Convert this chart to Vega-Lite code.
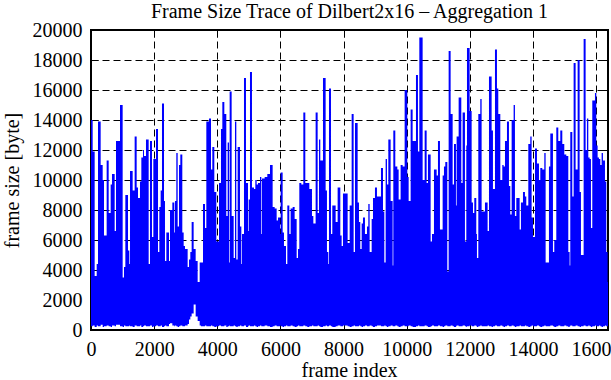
{
  "$schema": "https://vega.github.io/schema/vega-lite/v6.json",
  "width": 517,
  "height": 300,
  "autosize": {"type": "none"},
  "padding": {"left": 91, "top": 30, "right": 3, "bottom": 50},
  "background": "white",
  "config": {
    "view": {"stroke": "black", "strokeWidth": 2},
    "font": "Liberation Serif"
  },
  "data": {
    "values": [
      {"f":0,"hi":14000,"lo":250},{"f":53,"hi":11900,"lo":300},{"f":116,"hi":3600,"lo":200},{"f":180,"hi":4400,"lo":300},{"f":222,"hi":13900,"lo":250},{"f":306,"hi":11000,"lo":350},{"f":370,"hi":10000,"lo":200},{"f":412,"hi":6300,"lo":250},{"f":496,"hi":11300,"lo":300},{"f":560,"hi":7800,"lo":250},{"f":623,"hi":9700,"lo":200},{"f":665,"hi":10400,"lo":300},{"f":750,"hi":6600,"lo":250},{"f":792,"hi":12600,"lo":350},{"f":919,"hi":15000,"lo":250},{"f":1003,"hi":3500,"lo":200},{"f":1045,"hi":4200,"lo":300},{"f":1088,"hi":9000,"lo":250},{"f":1172,"hi":5300,"lo":250},{"f":1214,"hi":4400,"lo":300},{"f":1236,"hi":10600,"lo":250},{"f":1320,"hi":9300,"lo":200},{"f":1383,"hi":12900,"lo":300},{"f":1447,"hi":9500,"lo":250},{"f":1489,"hi":8800,"lo":250},{"f":1552,"hi":9900,"lo":300},{"f":1595,"hi":11500,"lo":200},{"f":1647,"hi":12000,"lo":250},{"f":1679,"hi":11600,"lo":300},{"f":1742,"hi":12700,"lo":250},{"f":1827,"hi":4400,"lo":250},{"f":1869,"hi":12600,"lo":300},{"f":1932,"hi":6200,"lo":200},{"f":1975,"hi":11400,"lo":250},{"f":2059,"hi":13400,"lo":300},{"f":2123,"hi":5200,"lo":250},{"f":2165,"hi":8200,"lo":250},{"f":2207,"hi":9300,"lo":300},{"f":2249,"hi":15100,"lo":200},{"f":2313,"hi":8600,"lo":250},{"f":2344,"hi":4600,"lo":300},{"f":2387,"hi":6500,"lo":250},{"f":2471,"hi":4600,"lo":400},{"f":2503,"hi":8000,"lo":450},{"f":2577,"hi":8500,"lo":300},{"f":2640,"hi":6500,"lo":250},{"f":2661,"hi":8600,"lo":300},{"f":2703,"hi":11800,"lo":250},{"f":2746,"hi":6900,"lo":200},{"f":2788,"hi":11000,"lo":250},{"f":2830,"hi":11700,"lo":300},{"f":2893,"hi":6500,"lo":250},{"f":2936,"hi":5600,"lo":250},{"f":2978,"hi":5400,"lo":300},{"f":3062,"hi":4200,"lo":400},{"f":3105,"hi":4700,"lo":700},{"f":3147,"hi":5200,"lo":900},{"f":3189,"hi":7200,"lo":1100},{"f":3252,"hi":5400,"lo":1700},{"f":3316,"hi":4600,"lo":900},{"f":3379,"hi":3200,"lo":600},{"f":3443,"hi":4500,"lo":300},{"f":3485,"hi":4500,"lo":250},{"f":3548,"hi":8400,"lo":250},{"f":3612,"hi":6800,"lo":300},{"f":3654,"hi":13900,"lo":250},{"f":3738,"hi":14100,"lo":250},{"f":3802,"hi":10700,"lo":300},{"f":3844,"hi":12200,"lo":250},{"f":3907,"hi":9200,"lo":200},{"f":3971,"hi":5900,"lo":250},{"f":4055,"hi":9800,"lo":300},{"f":4118,"hi":13400,"lo":250},{"f":4161,"hi":15200,"lo":250},{"f":4224,"hi":14400,"lo":300},{"f":4287,"hi":7600,"lo":200},{"f":4330,"hi":12500,"lo":250},{"f":4372,"hi":4500,"lo":300},{"f":4393,"hi":15900,"lo":250},{"f":4456,"hi":7600,"lo":250},{"f":4520,"hi":4800,"lo":300},{"f":4562,"hi":13900,"lo":250},{"f":4604,"hi":4700,"lo":200},{"f":4646,"hi":12200,"lo":250},{"f":4720,"hi":6900,"lo":300},{"f":4763,"hi":4400,"lo":250},{"f":4784,"hi":6400,"lo":250},{"f":4847,"hi":16800,"lo":300},{"f":4910,"hi":9800,"lo":200},{"f":4974,"hi":6600,"lo":250},{"f":4995,"hi":8700,"lo":300},{"f":5037,"hi":17200,"lo":250},{"f":5100,"hi":9500,"lo":250},{"f":5164,"hi":9400,"lo":300},{"f":5206,"hi":10000,"lo":250},{"f":5248,"hi":9700,"lo":200},{"f":5291,"hi":9800,"lo":250},{"f":5354,"hi":10200,"lo":300},{"f":5396,"hi":6400,"lo":250},{"f":5417,"hi":10100,"lo":250},{"f":5502,"hi":10200,"lo":300},{"f":5586,"hi":10400,"lo":250},{"f":5671,"hi":11000,"lo":200},{"f":5755,"hi":8200,"lo":250},{"f":5819,"hi":8100,"lo":300},{"f":5882,"hi":7300,"lo":250},{"f":5924,"hi":7500,"lo":250},{"f":5988,"hi":6400,"lo":300},{"f":6009,"hi":10500,"lo":250},{"f":6072,"hi":6500,"lo":200},{"f":6114,"hi":5600,"lo":250},{"f":6178,"hi":4400,"lo":300},{"f":6220,"hi":8300,"lo":250},{"f":6283,"hi":6400,"lo":250},{"f":6325,"hi":8100,"lo":300},{"f":6389,"hi":8200,"lo":250},{"f":6452,"hi":7400,"lo":200},{"f":6516,"hi":4800,"lo":250},{"f":6558,"hi":5400,"lo":300},{"f":6600,"hi":9800,"lo":250},{"f":6663,"hi":9700,"lo":250},{"f":6727,"hi":14500,"lo":300},{"f":6790,"hi":9800,"lo":250},{"f":6853,"hi":9800,"lo":200},{"f":6917,"hi":9400,"lo":250},{"f":7001,"hi":7600,"lo":300},{"f":7044,"hi":7100,"lo":250},{"f":7117,"hi":14500,"lo":250},{"f":7181,"hi":7800,"lo":300},{"f":7223,"hi":12700,"lo":250},{"f":7265,"hi":11300,"lo":200},{"f":7350,"hi":16800,"lo":250},{"f":7434,"hi":9300,"lo":300},{"f":7476,"hi":5200,"lo":250},{"f":7519,"hi":4400,"lo":250},{"f":7540,"hi":16100,"lo":300},{"f":7603,"hi":6400,"lo":250},{"f":7645,"hi":8300,"lo":200},{"f":7751,"hi":7200,"lo":250},{"f":7814,"hi":9500,"lo":300},{"f":7899,"hi":6300,"lo":250},{"f":7941,"hi":5600,"lo":250},{"f":7983,"hi":9100,"lo":300},{"f":8131,"hi":5800,"lo":250},{"f":8195,"hi":8300,"lo":200},{"f":8258,"hi":14400,"lo":250},{"f":8321,"hi":5200,"lo":300},{"f":8364,"hi":13800,"lo":250},{"f":8448,"hi":8500,"lo":250},{"f":8490,"hi":7200,"lo":300},{"f":8532,"hi":5400,"lo":250},{"f":8575,"hi":7100,"lo":200},{"f":8617,"hi":7500,"lo":250},{"f":8680,"hi":6400,"lo":300},{"f":8744,"hi":6900,"lo":250},{"f":8786,"hi":8400,"lo":250},{"f":8828,"hi":5200,"lo":300},{"f":8892,"hi":7400,"lo":250},{"f":8934,"hi":8800,"lo":200},{"f":8997,"hi":9500,"lo":250},{"f":9060,"hi":8900,"lo":300},{"f":9187,"hi":10800,"lo":250},{"f":9251,"hi":7900,"lo":250},{"f":9293,"hi":4500,"lo":300},{"f":9335,"hi":11400,"lo":250},{"f":9377,"hi":9700,"lo":200},{"f":9420,"hi":12700,"lo":250},{"f":9493,"hi":8600,"lo":300},{"f":9557,"hi":4300,"lo":250},{"f":9578,"hi":13300,"lo":250},{"f":9641,"hi":10900,"lo":300},{"f":9705,"hi":10700,"lo":250},{"f":9747,"hi":8700,"lo":200},{"f":9810,"hi":11000,"lo":250},{"f":9874,"hi":10900,"lo":300},{"f":9937,"hi":16000,"lo":250},{"f":10021,"hi":10200,"lo":250},{"f":10064,"hi":8600,"lo":300},{"f":10127,"hi":14700,"lo":250},{"f":10190,"hi":12600,"lo":200},{"f":10296,"hi":17000,"lo":250},{"f":10359,"hi":11900,"lo":300},{"f":10402,"hi":19500,"lo":250},{"f":10507,"hi":10000,"lo":250},{"f":10571,"hi":13300,"lo":300},{"f":10634,"hi":9800,"lo":250},{"f":10676,"hi":11700,"lo":200},{"f":10761,"hi":5900,"lo":250},{"f":10803,"hi":6400,"lo":300},{"f":10866,"hi":10700,"lo":250},{"f":10951,"hi":10300,"lo":250},{"f":10993,"hi":12600,"lo":300},{"f":11056,"hi":6700,"lo":250},{"f":11141,"hi":10300,"lo":200},{"f":11183,"hi":10900,"lo":250},{"f":11225,"hi":11200,"lo":300},{"f":11289,"hi":3900,"lo":250},{"f":11331,"hi":18600,"lo":250},{"f":11394,"hi":14400,"lo":300},{"f":11458,"hi":9700,"lo":250},{"f":11500,"hi":12400,"lo":200},{"f":11563,"hi":8300,"lo":250},{"f":11584,"hi":12900,"lo":300},{"f":11648,"hi":15500,"lo":250},{"f":11732,"hi":9800,"lo":250},{"f":11774,"hi":14500,"lo":300},{"f":11848,"hi":5900,"lo":250},{"f":11891,"hi":12300,"lo":200},{"f":11912,"hi":18800,"lo":250},{"f":11996,"hi":14600,"lo":300},{"f":12060,"hi":8500,"lo":250},{"f":12102,"hi":7800,"lo":250},{"f":12144,"hi":8800,"lo":300},{"f":12207,"hi":6400,"lo":250},{"f":12228,"hi":4800,"lo":200},{"f":12271,"hi":14400,"lo":250},{"f":12334,"hi":15400,"lo":300},{"f":12376,"hi":7900,"lo":250},{"f":12482,"hi":8500,"lo":250},{"f":12566,"hi":6600,"lo":300},{"f":12609,"hi":16900,"lo":250},{"f":12693,"hi":13300,"lo":200},{"f":12735,"hi":9400,"lo":250},{"f":12799,"hi":18700,"lo":300},{"f":12862,"hi":16100,"lo":250},{"f":12904,"hi":14400,"lo":250},{"f":12968,"hi":10000,"lo":300},{"f":13031,"hi":11000,"lo":250},{"f":13073,"hi":10900,"lo":200},{"f":13116,"hi":12600,"lo":250},{"f":13179,"hi":13900,"lo":300},{"f":13242,"hi":9600,"lo":250},{"f":13284,"hi":7700,"lo":250},{"f":13327,"hi":14000,"lo":300},{"f":13390,"hi":15000,"lo":250},{"f":13432,"hi":7600,"lo":200},{"f":13475,"hi":8800,"lo":250},{"f":13580,"hi":6700,"lo":300},{"f":13622,"hi":8500,"lo":250},{"f":13686,"hi":9200,"lo":250},{"f":13749,"hi":8900,"lo":300},{"f":13791,"hi":8300,"lo":250},{"f":13855,"hi":12400,"lo":200},{"f":13918,"hi":12900,"lo":250},{"f":13960,"hi":7500,"lo":300},{"f":14003,"hi":6200,"lo":250},{"f":14066,"hi":12100,"lo":250},{"f":14129,"hi":11100,"lo":300},{"f":14193,"hi":10000,"lo":250},{"f":14235,"hi":10800,"lo":200},{"f":14298,"hi":10700,"lo":250},{"f":14362,"hi":11800,"lo":300},{"f":14404,"hi":4500,"lo":250},{"f":14509,"hi":10900,"lo":250},{"f":14552,"hi":13100,"lo":300},{"f":14636,"hi":5200,"lo":250},{"f":14678,"hi":6000,"lo":200},{"f":14742,"hi":13500,"lo":250},{"f":14805,"hi":12600,"lo":300},{"f":14868,"hi":13300,"lo":250},{"f":14932,"hi":12400,"lo":250},{"f":14995,"hi":11700,"lo":300},{"f":15059,"hi":11600,"lo":250},{"f":15122,"hi":5200,"lo":200},{"f":15164,"hi":4300,"lo":250},{"f":15185,"hi":13200,"lo":300},{"f":15249,"hi":8900,"lo":250},{"f":15291,"hi":17800,"lo":250},{"f":15354,"hi":10700,"lo":300},{"f":15418,"hi":18000,"lo":250},{"f":15481,"hi":9200,"lo":200},{"f":15523,"hi":5000,"lo":250},{"f":15608,"hi":19400,"lo":300},{"f":15671,"hi":12000,"lo":250},{"f":15713,"hi":14100,"lo":250},{"f":15756,"hi":11500,"lo":300},{"f":15798,"hi":11400,"lo":250},{"f":15840,"hi":6800,"lo":200},{"f":15882,"hi":15300,"lo":250},{"f":15967,"hi":15800,"lo":300},{"f":16009,"hi":12300,"lo":250},{"f":16051,"hi":11500,"lo":250},{"f":16093,"hi":11400,"lo":300},{"f":16136,"hi":11000,"lo":250},{"f":16178,"hi":11800,"lo":200},{"f":16220,"hi":11300,"lo":250},{"f":16284,"hi":9900,"lo":300},{"f":16326,"hi":5200,"lo":250},{"f":16368,"hi":3200,"lo":250},{"f":16380,"hi":3200,"lo":250}
    ]
  },
  "layer": [
    {
      "mark": {"type": "area", "interpolate": "step-after", "color": "#0000ff", "opacity": 1},
      "encoding": {
        "x": {
          "field": "f", "type": "quantitative",
          "scale": {"domain": [0, 16380], "nice": false, "zero": false},
          "axis": {
            "orient": "bottom",
            "values": [0, 2000, 4000, 6000, 8000, 10000, 12000, 14000, 16000],
            "format": "d",
            "grid": true, "gridColor": "black", "gridDash": [7, 4], "gridOpacity": 1, "gridWidth": 1,
            "domain": false,
            "ticks": true, "tickSize": -7, "tickColor": "black", "tickWidth": 1,
            "labelFont": "Liberation Serif", "labelFontSize": 20, "labelColor": "black",
            "labelPadding": 16, "labelOverlap": false, "labelFlush": false,
            "title": "frame index",
            "titleFont": "Liberation Serif", "titleFontSize": 20, "titleFontWeight": "normal", "titleColor": "black",
            "titleX": 258, "titleY": 40, "titleBaseline": "middle"
          }
        },
        "y": {
          "field": "hi", "type": "quantitative",
          "scale": {"domain": [0, 20000], "nice": false},
          "axis": {
            "orient": "left",
            "values": [0, 2000, 4000, 6000, 8000, 10000, 12000, 14000, 16000, 18000, 20000],
            "format": "d",
            "grid": true, "gridColor": "black", "gridDash": [7, 4], "gridOpacity": 1, "gridWidth": 1,
            "domain": false,
            "ticks": true, "tickSize": -7, "tickColor": "black", "tickWidth": 1,
            "labelFont": "Liberation Serif", "labelFontSize": 20, "labelColor": "black",
            "labelPadding": 16, "labelOverlap": false, "labelFlush": false,
            "title": "frame size [byte]",
            "titleFont": "Liberation Serif", "titleFontSize": 20, "titleFontWeight": "normal", "titleColor": "black",
            "titleX": -79, "titleY": 150, "titleBaseline": "middle"
          }
        },
        "y2": {"field": "lo"}
      }
    },
    {
      "mark": {"type": "area", "opacity": 0},
      "encoding": {
        "x": {
          "field": "f", "type": "quantitative",
          "axis": {
            "orient": "top",
            "values": [0, 2000, 4000, 6000, 8000, 10000, 12000, 14000, 16000],
            "grid": false, "domain": false, "labels": false,
            "ticks": true, "tickSize": -7, "tickColor": "black", "tickWidth": 1,
            "title": "Frame Size Trace of Dilbert2x16 – Aggregation 1",
            "titleFont": "Liberation Serif", "titleFontSize": 20, "titleFontWeight": "normal", "titleColor": "black",
            "titleX": 258, "titleY": -19, "titleBaseline": "middle"
          }
        },
        "y": {
          "field": "hi", "type": "quantitative",
          "axis": {
            "orient": "right",
            "values": [0, 2000, 4000, 6000, 8000, 10000, 12000, 14000, 16000, 18000, 20000],
            "grid": false, "domain": false, "labels": false, "title": null,
            "ticks": true, "tickSize": -7, "tickColor": "black", "tickWidth": 1
          }
        }
      }
    }
  ],
  "resolve": {"axis": {"x": "independent", "y": "independent"}}
}
